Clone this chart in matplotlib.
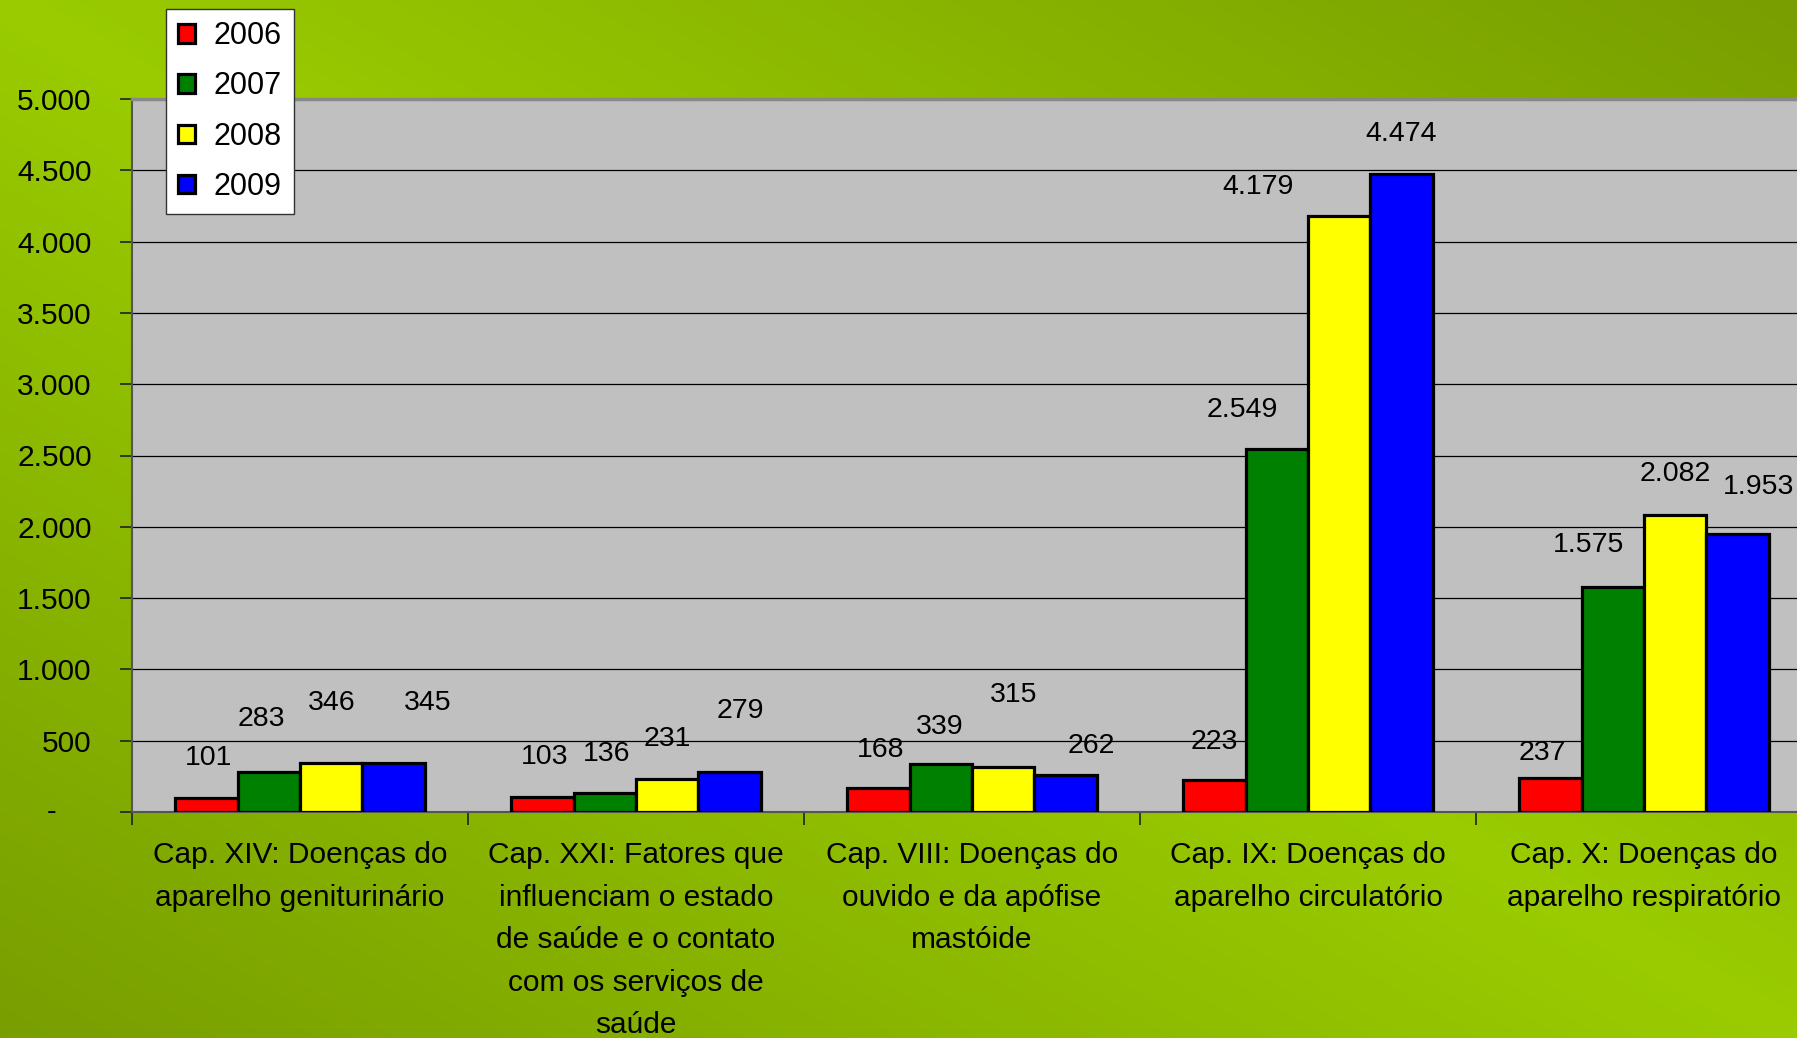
import numpy as np
import matplotlib
matplotlib.use("Agg")
from matplotlib import pyplot as plt
from matplotlib.ticker import FixedLocator, FuncFormatter

plt.rcParams['font.family'] = ['Liberation Sans', 'DejaVu Sans']

# data
categories = ['Cap. XIV: Doenças do\naparelho geniturinário',
              'Cap. XXI: Fatores que\ninfluenciam o estado\nde saúde e o contato\ncom os serviços de\nsaúde',
              'Cap. VIII: Doenças do\nouvido e da apófise\nmastóide',
              'Cap. IX: Doenças do\naparelho circulatório',
              'Cap. X: Doenças do\naparelho respiratório']
years = ['2006', '2007', '2008', '2009']
v2006 = [101, 103, 168, 223, 237]
v2007 = [283, 136, 339, 2549, 1575]
v2008 = [346, 231, 315, 4179, 2082]
v2009 = [345, 279, 262, 4474, 1953]
yticks = [0, 500, 1000, 1500, 2000, 2500, 3000, 3500, 4000, 4500, 5000]

colors = ['#FF0000', '#008000', '#FFFF00', '#0000FF']

# label nudges in pixels (the original labels sit a bit off their bars)
lab_dx = [[2, -7, 0, 34], [2, 2, 0, 11], [2, -1, 10, 26], [0, -34, -81, -1], [-8, -24, 0, 21]]
lab_dy = [[40, 53, 60, 60], [40, 39, 40, 61], [38, 37, 72, 29], [38, 39, 29, 40], [25, 42, 41, 47]]

W, H = 1797, 1038
fig = plt.figure(figsize=(W/100, H/100), dpi=100)

# green gradient background
bg = fig.add_axes([0, 0, 1, 1], zorder=-10)
u = np.linspace(0, 1, 400)[None, :]
v = np.linspace(0, 1, 240)[:, None]
t = np.abs(u - v)
bright = np.array([0x9A, 0xCC, 0x00]) / 255
dark = np.array([0x78, 0x9E, 0x00]) / 255
img = bright[None, None, :] + (dark - bright)[None, None, :] * t[:, :, None]
bg.imshow(img, aspect='auto', extent=[0, 1, 0, 1], interpolation='bilinear')
bg.set_axis_off()

left, right, top, bottom = 132, 1812, 99, 812
ax = fig.add_axes([left/W, 1 - bottom/H, (right-left)/W, (bottom-top)/H])
ax.set_facecolor('#C0C0C0')

series = [v2006, v2007, v2008, v2009]
x = np.arange(len(categories))
bw = 0.186
for i, vals in enumerate(series):
    xs = x + (i - 1.5) * bw
    ax.bar(xs, vals, bw, color=colors[i], edgecolor='black', linewidth=2.3,
           label=years[i], zorder=3)
    for j, val in enumerate(vals):
        ax.annotate(f"{val:,}".replace(',', '.'), (xs[j], val),
                    xytext=(lab_dx[j][i], lab_dy[j][i]), textcoords='offset pixels',
                    ha='center', va='center', fontsize=20.5, zorder=5)

ax.set_xlim(-0.5, len(categories) - 0.5)
ax.set_ylim(0, 5000)

# y axis
ax.yaxis.set_major_locator(FixedLocator(yticks))
ax.yaxis.set_major_formatter(FuncFormatter(lambda val, pos: '' if val == 0 else f"{int(val):,}".replace(',', '.')))
ax.tick_params(axis='y', length=9, width=1.2, pad=20, labelsize=21.5, direction='out', color='#222222')
ax.text(-0.048, 0, '-', transform=ax.get_yaxis_transform(), ha='center', va='center', fontsize=21)
for yv in yticks[1:-1]:
    ax.axhline(yv, color='black', linewidth=0.9, zorder=1)

# x axis: labels at centres, tick marks at boundaries
ax.set_xticks(x)
ax.set_xticklabels(categories, fontsize=21.5, linespacing=1.66)
ax.tick_params(axis='x', which='major', length=0, pad=21)
ax.set_xticks(np.arange(-0.5, len(categories)), minor=True)
ax.tick_params(axis='x', which='minor', length=9, width=1.2, direction='out', color='#222222')

for s in ['left', 'bottom']:
    ax.spines[s].set_color('#555555')
    ax.spines[s].set_linewidth(1.5)
ax.spines['top'].set_color('#888888')
ax.spines['top'].set_linewidth(2.5)
ax.spines['right'].set_visible(False)

leg = fig.legend(loc='upper left', bbox_to_anchor=(166/W, 1 - 9/H), borderaxespad=0,
                 fontsize=22, handlelength=0.55, handleheight=0.55, handletextpad=0.6,
                 labelspacing=0.66, borderpad=0.4, fancybox=False, framealpha=1,
                 edgecolor='#333333')
leg.get_frame().set_linewidth(1.0)
leg.set_zorder(20)

fig.savefig('out.png', dpi=100)
